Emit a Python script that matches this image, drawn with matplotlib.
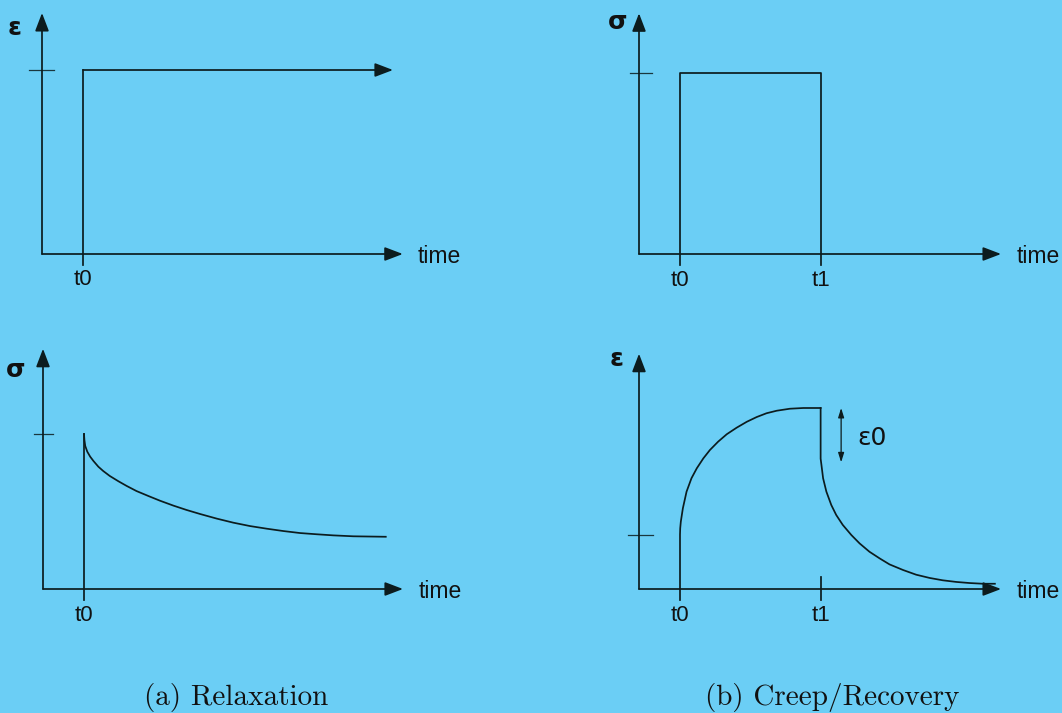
import matplotlib
matplotlib.use("Agg")
import matplotlib.pyplot as plt

# ---- data -------------------------------------------------------------
T0 = 1.0          # load applied
T1 = 4.43         # load removed (creep/recovery)
STRAIN_STEP = 1.0  # imposed strain in relaxation test
STRESS_STEP = 1.0  # imposed stress in creep test
ELASTIC = 0.3      # instantaneous elastic strain (epsilon0)

# stress response in relaxation test
relax_t = [1.0, 1.01, 1.03, 1.08, 1.15, 1.23, 1.35, 1.47, 1.63, 1.84, 2.04,
           2.28, 2.57, 2.85, 3.18, 3.50, 3.83, 4.24, 4.64, 5.05, 5.46, 5.86,
           6.27, 6.68, 7.08, 7.57, 8.36]
relax_s = [1.0, 0.961, 0.923, 0.886, 0.854, 0.826, 0.789, 0.761, 0.729, 0.695,
           0.665, 0.632, 0.600, 0.570, 0.538, 0.510, 0.484, 0.454, 0.428,
           0.406, 0.389, 0.374, 0.361, 0.353, 0.346, 0.340, 0.337]

# strain response in creep phase
creep_t = [1.0, 1.0, 1.005, 1.02, 1.07, 1.16, 1.28, 1.41, 1.57, 1.73, 1.93,
           2.14, 2.38, 2.63, 2.87, 3.11, 3.36, 3.68, 4.01, 4.43]
creep_e = [0.0, 0.30, 0.335, 0.372, 0.446, 0.538, 0.612, 0.667, 0.722, 0.768,
           0.814, 0.855, 0.891, 0.924, 0.950, 0.971, 0.985, 0.996, 1.0, 1.0]

# strain response in recovery phase
recov_t = [4.43, 4.43, 4.45, 4.49, 4.57, 4.69, 4.81, 4.97, 5.18, 5.38, 5.62,
           5.87, 6.11, 6.44, 6.76, 7.09, 7.41, 7.74, 8.06, 8.39, 8.68]
recov_e = [1.0, 0.72, 0.685, 0.612, 0.538, 0.464, 0.409, 0.354, 0.298, 0.252,
           0.206, 0.169, 0.136, 0.105, 0.079, 0.061, 0.048, 0.039, 0.033,
           0.029, 0.029]

captions = ["(a) Relaxation", "(b) Creep/Recovery"]

# ---- styling ------------------------------------------------------------
W, H = 1062, 713
BG = "#6bcef5"
INK = "#0c1c1e"
PX_T = 41.0       # pixels per time unit
LW = 1.25

fig = plt.figure(figsize=(W / 100, H / 100), dpi=100, facecolor=BG)


def panel(ox, oy, sy):
    """Transparent full-figure axes whose data origin sits at pixel (ox, oy)."""
    ax = fig.add_axes([0, 0, 1, 1])
    ax.set_xlim(-ox / PX_T, (W - ox) / PX_T)
    ax.set_ylim(-(H - oy) / sy, oy / sy)
    ax.axis("off")
    ax.patch.set_alpha(0)
    return ax


def arrow(ax, start, tip, ms=10, hl=1.1, hw=0.42, lw=LW):
    ax.annotate("", xy=tip, xytext=start,
                arrowprops=dict(arrowstyle=f"-|>,head_length={hl},head_width={hw}",
                                mutation_scale=ms, lw=lw, color=INK,
                                shrinkA=0, shrinkB=0))


def axes_frame(ax, xtip, ytip, ylabel, ylabel_pos, time_x):
    arrow(ax, (0, 0), (xtip, 0))
    arrow(ax, (0, 0), (0, ytip))
    ax.annotate("time", (time_x, 0), xytext=(0, -2), textcoords="offset points",
                fontsize=16.5, family="Liberation Sans", color="#111",
                ha="left", va="center")
    ax.text(*ylabel_pos, ylabel, fontsize=18, family="DejaVu Sans",
            fontweight="bold", color="#111", ha="center", va="center")


def hlevel(ax, y, x0, x1):
    ax.plot([x0, x1], [y, y], color=INK, lw=0.9, alpha=0.85)


def tlabel(ax, t, y, s):
    ax.text(t, y, s, fontsize=16, family="Liberation Sans", color="#111",
            ha="center", va="center")


# (a) top: strain step
ax = panel(42, 254, 184)
axes_frame(ax, 8.8, 1.31, "ε", (-0.66, 1.23), 9.17)
hlevel(ax, STRAIN_STEP, -0.32, 0.30)
ax.plot([T0, T0], [-0.06, STRAIN_STEP], color=INK, lw=LW)
arrow(ax, (T0, STRAIN_STEP), (8.56, STRAIN_STEP))
tlabel(ax, T0, -0.14, "t0")

# (b) top: stress pulse
ax = panel(639, 254, 181)
axes_frame(ax, 8.83, 1.33, "σ", (-0.51, 1.28), 9.2)
hlevel(ax, STRESS_STEP, -0.22, 0.32)
ax.plot([T0, T0, T1, T1], [-0.06, STRESS_STEP, STRESS_STEP, -0.06],
        color=INK, lw=LW)
tlabel(ax, T0, -0.144, "t0")
tlabel(ax, T1, -0.144, "t1")

# (a) bottom: stress relaxation
ax = panel(43, 589, 155)
axes_frame(ax, 8.78, 1.55, "σ", (-0.66, 1.41), 9.15)
hlevel(ax, relax_s[0], -0.22, 0.24)
ax.plot([T0, T0], [-0.07, relax_s[0]], color=INK, lw=LW)
ax.plot(relax_t, relax_s, color=INK, lw=LW, solid_joinstyle="round")
tlabel(ax, T0, -0.168, "t0")

# (b) bottom: creep and recovery
ax = panel(639, 589, 181)
axes_frame(ax, 8.83, 1.30, "ε", (-0.54, 1.27), 9.2)
hlevel(ax, ELASTIC, -0.28, 0.33)
ax.plot([T0, T0], [-0.06, 0.0], color=INK, lw=LW)
ax.plot([T1, T1], [-0.06, 0.066], color=INK, lw=LW)
ax.plot(creep_t, creep_e, color=INK, lw=LW, solid_joinstyle="round")
ax.plot(recov_t, recov_e, color=INK, lw=LW, solid_joinstyle="round")
ax.annotate("", xy=(4.93, STRESS_STEP), xytext=(4.93, STRESS_STEP - ELASTIC),
            arrowprops=dict(arrowstyle="<|-|>,head_length=0.8,head_width=0.25",
                            mutation_scale=7, lw=0.9, color=INK,
                            shrinkA=0, shrinkB=0))
ax.text(5.32, 0.834, "ε0", fontsize=18, family="DejaVu Sans", color="#111",
        ha="left", va="center")
tlabel(ax, T0, -0.144, "t0")
tlabel(ax, T1, -0.144, "t1")

# captions
for cx, cap in zip([236.5, 832.5], captions):
    fig.text(cx / W, 1 - 697 / H, cap, fontsize=21, family="cmr10",
             color="#111", ha="center", va="center")

fig.savefig("out.png", dpi=100, facecolor=BG)
